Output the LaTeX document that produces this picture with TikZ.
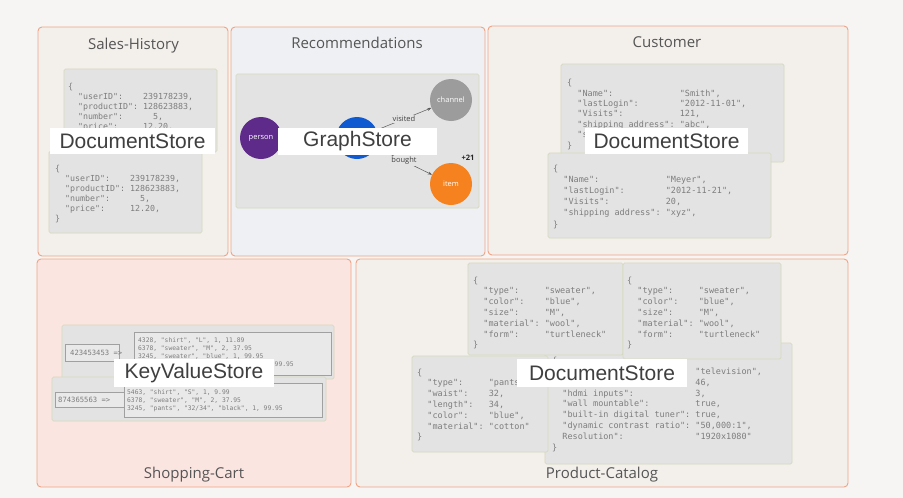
\documentclass[tikz,border=0pt]{standalone}
\usepackage{fontspec}
\setmainfont{Open Sans}
\setmonofont{DejaVu Sans Mono}
\newfontfamily\storefont{Liberation Sans}
\usetikzlibrary{arrows.meta}
\definecolor{bgc}{HTML}{F6F5F4}
\definecolor{pborder}{HTML}{F0A385}
\definecolor{pfill}{HTML}{F3EFEB}
\definecolor{pblue}{HTML}{EEF0F3}
\definecolor{ppink}{HTML}{FBE5E1}
\definecolor{cfill}{HTML}{E3E3E3}
\definecolor{cborder}{HTML}{D5D8BC}
\definecolor{codec}{HTML}{7D7D7D}
\definecolor{titlec}{HTML}{555555}
\definecolor{storec}{HTML}{3F3F3F}
\definecolor{purp}{HTML}{5E2B8A}
\definecolor{bluen}{HTML}{0F5AD0}
\definecolor{grayn}{HTML}{9C9C9C}
\definecolor{orangen}{HTML}{F5821F}
\definecolor{kvbox}{HTML}{A0A0A0}
\newcommand\ind{\hphantom{xx}}
\newcommand\kv[3]{\ind\makebox[\dimexpr0.602em*#1\relax][l]{#2}#3}
\begin{document}
\begin{tikzpicture}[x=1pt,y=-1pt,
  panel/.style={draw=pborder,line width=0.9pt,rounded corners=4pt},
  card/.style={draw=cborder,fill=cfill,line width=0.7pt,rounded corners=1.5pt},
  code/.style={font=\fontsize{8.3}{10}\selectfont\ttfamily,text=codec,align=left,inner sep=0pt,anchor=north west},
  codeb/.style={code,font=\fontsize{8.5}{10.8}\selectfont\ttfamily},
  codes/.style={code,font=\fontsize{6.3}{8}\selectfont\ttfamily},
  kvtext/.style={font=\fontsize{7.2}{9}\selectfont\ttfamily,text=codec,inner sep=0pt,anchor=west},
  title/.style={font=\fontsize{15}{18}\selectfont,text=titlec,inner sep=0pt,anchor=base},
  store/.style={fill=white,text=storec,font=\storefont\fontsize{21}{24}\selectfont,inner sep=0pt},
  gnode/.style={circle,minimum size=42pt,inner sep=0pt,text=white,font=\fontsize{7.5}{9}\selectfont},
  elabel/.style={fill=cfill,inner sep=1pt,text=black!75,font=\fontsize{7.5}{9}\selectfont},
  gedge/.style={draw=black!65,line width=0.5pt,-{Stealth[length=4pt,width=3pt]}},
  kvb/.style={draw=kvbox,fill=cfill!80!white,line width=0.6pt}
]
\fill[bgc] (0,0) rectangle (903,498);
\useasboundingbox (0,0) rectangle (903,498);

% panels
\path[panel,fill=pfill] (38,27) rectangle (228,256);
\path[panel,fill=pblue] (231,27) rectangle (485,256);
\path[panel,fill=pfill] (488,26) rectangle (848,255);
\path[panel,fill=ppink] (37,259) rectangle (351,487);
\path[panel,fill=pfill] (356,259) rectangle (848,487);

% titles
\node[title] (t1) at (133.5,49.5) {Sales-History};
\node[title] (t2) at (357,48.5) {Recommendations};
\node[title] (t3) at (667,47.5) {Customer};
\node[title] (t4) at (194,478.5) {Shopping-Cart};
\node[title] (t5) at (602,478.5) {Product-Catalog};

% Sales-History
\path[card] (64,69) rectangle (217,152);
\node[code] (s1) at (68,82.5) {\{\\
\kv{13}{"userID":}{239178239,}\\
\kv{13}{"productID":}{128623883,}\\
\kv{15}{"number":}{5,}\\
\kv{13}{"price":}{12.20,}\\
\}};
\path[card] (49,151) rectangle (202,233);
\node[code] (s2) at (55,164.5) {\{\\
\kv{13}{"userID":}{239178239,}\\
\kv{13}{"productID":}{128623883,}\\
\kv{15}{"number":}{5,}\\
\kv{13}{"price":}{12.20,}\\
\}};
\node[store,minimum width=165pt,minimum height=26pt] (ds1) at (132.5,141) {DocumentStore};

% Recommendations
\path[card] (236,74) rectangle (479,208);
\node[gnode,fill=purp] (person) at (261,138) {person};
\node[gnode,fill=bluen] (hub) at (357,138) {};
\node[gnode,fill=grayn] (channel) at (451,100) {channel};
\node[gnode,fill=orangen] (item) at (451,184) {item};
\draw[gedge] (hub) -- node[elabel] (lv) {visited} (channel);
\draw[gedge] (hub) -- node[elabel] (lb) {bought} (item);
\node[font=\fontsize{7.5}{9}\selectfont\bfseries,text=black!85,inner sep=0pt] (plus) at (468,158) {+21};
\node[store,minimum width=159pt,minimum height=27pt] (gs) at (357.5,141.5) {GraphStore};

% Customer
\path[card] (561,64) rectangle (784,162);
\node[codeb,font=\fontsize{8.5}{10.4}\selectfont\ttfamily] (c1) at (567,79) {\{\\
\kv{20}{"Name":}{"Smith",}\\
\kv{20}{"lastLogin":}{"2012-11-01",}\\
\kv{20}{"Visits":}{121,}\\
\kv{20}{"shipping address":}{"abc",}\\
\kv{20}{"status":}{"active",}\\
\}};
\path[card] (548,153) rectangle (771,238);
\node[codeb,font=\fontsize{8.5}{11.2}\selectfont\ttfamily] (c2) at (553,164.5) {\{\\
\kv{20}{"Name":}{"Meyer",}\\
\kv{20}{"lastLogin":}{"2012-11-21",}\\
\kv{20}{"Visits":}{20,}\\
\kv{20}{"shipping address":}{"xyz",}\\
\}};
\node[store,minimum width=163pt,minimum height=26pt] (ds2) at (666.5,141) {DocumentStore};

% Shopping-Cart
\path[card] (62,325) rectangle (334,379);
\path[kvb] (65,344) rectangle (119,361);
\path[kvb] (134,332) rectangle (331,375);
\node[kvtext] (k1) at (70,352.5) {423453453 =>};
\node[codes] (v1) at (138,337.5) {4328, "shirt", "L", 1, 11.89\\
6378, "sweater", "M", 2, 37.95\\
3245, "sweater", "blue", 1, 99.95\\
3245, "pants", "32/34", "black", 1, 99.95};
\path[card] (52,377) rectangle (326,421);
\path[kvb] (55,392) rectangle (130,407);
\path[kvb] (124,383) rectangle (322,417);
\node[kvtext] (k2) at (58,400) {874365563 =>};
\node[codes] (v2) at (127,389.5) {5463, "shirt", "S", 1, 9.99\\
6378, "sweater", "M", 2, 37.95\\
3245, "pants", "32/34", "black", 1, 99.95};
\node[store,minimum width=160pt,minimum height=28pt] (kvs) at (194,373) {KeyValueStore};

% Product-Catalog
\path[card] (545,343) rectangle (792,464);
\node[codeb] (p4) at (552,357) {\{\\
\kv{26}{"type":}{"television",}\\
\kv{26}{"screen size":}{46,}\\
\kv{26}{"hdmi inputs":}{3,}\\
\kv{26}{"wall mountable":}{true,}\\
\kv{26}{"built-in digital tuner":}{true,}\\
\kv{26}{"dynamic contrast ratio":}{"50,000:1",}\\
\kv{26}{Resolution":}{"1920x1080"}\\
\}};
\path[card] (412,356) rectangle (548,452);
\node[codeb] (p3) at (417,368.5) {\{\\
\kv{12}{"type":}{"pants",}\\
\kv{12}{"waist":}{32,}\\
\kv{12}{"length":}{34,}\\
\kv{12}{"color":}{"blue",}\\
\kv{12}{"material":}{"cotton"}\\
\}};
\path[card] (468,263) rectangle (623,355);
\node[codeb] (p1) at (473,276.5) {\{\\
\kv{12}{"type":}{"sweater",}\\
\kv{12}{"color":}{"blue",}\\
\kv{12}{"size":}{"M",}\\
\kv{12}{"material":}{"wool",}\\
\kv{12}{"form":}{"turtleneck"}\\
\}};
\path[card] (623,263) rectangle (781,359);
\node[codeb] (p2) at (627,276.5) {\{\\
\kv{12}{"type":}{"sweater",}\\
\kv{12}{"color":}{"blue",}\\
\kv{12}{"size":}{"M",}\\
\kv{12}{"material":}{"wool",}\\
\kv{12}{"form":}{"turtleneck"}\\
\}};
\node[store,minimum width=170pt,minimum height=28pt] (ds3) at (602,373) {DocumentStore};
\end{tikzpicture}
\end{document}
